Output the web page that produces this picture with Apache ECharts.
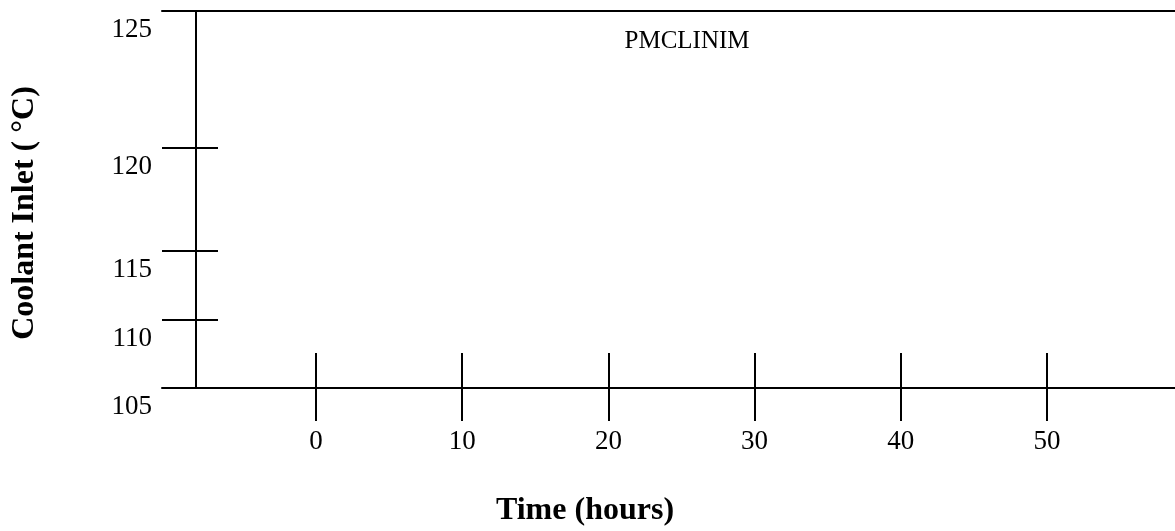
<!DOCTYPE html>
<html>
<head>
<meta charset="utf-8">
<script src="https://cdn.jsdelivr.net/npm/echarts@6/dist/echarts.min.js"></script>
<style>
html,body{margin:0;padding:0;background:#fff;}
#chart{width:1175px;height:531px;}
</style>
</head>
<body>
<div id="chart"></div>
<script>
// Y tick labels (the original scale is uneven; blank entries are unlabeled steps)
const yTickLabels = ['105', '', '110', '', '115', '', '', '120', '', '', '', '125'];
// X tick values (hours)
const xTickValues = [0, 10, 20, 30, 40, 50];
// No data series are drawn in the reference
const seriesValues = [];
const plotLabel = 'PMCLINIM';
const xTitle = 'Time (hours)';
const yTitle = 'Coolant Inlet ( °C)';

const FONT = '"Liberation Serif", "Times New Roman", serif';
const lineStyle = { color: '#000', width: 2 };
const hasLabel = (i, v) => v !== '';

const chart = echarts.init(document.getElementById('chart'), null, { renderer: 'canvas' });
chart.setOption({
  animation: false,
  backgroundColor: '#fff',
  grid: { left: 162, right: 0, top: 11, bottom: 143, containLabel: false },
  xAxis: [
    { type: 'value', position: 'bottom', min: -10.53, max: 58.75,
      axisLine: { show: true, onZero: false, lineStyle },
      axisTick: { show: true, inside: false, length: 33, lineStyle, customValues: xTickValues },
      axisLabel: { show: true, margin: 40, fontFamily: FONT, fontSize: 27, color: '#000', customValues: xTickValues },
      splitLine: { show: false } },
    { type: 'value', position: 'bottom', min: -10.53, max: 58.75,
      axisLine: { show: false, onZero: false },
      axisTick: { show: true, inside: true, length: 35, lineStyle, customValues: xTickValues },
      axisLabel: { show: false },
      splitLine: { show: false } },
    { type: 'value', position: 'top', min: -10.53, max: 58.75,
      axisLine: { show: true, onZero: false, lineStyle },
      axisTick: { show: false }, axisLabel: { show: false }, splitLine: { show: false } }
  ],
  yAxis: [
    { type: 'category', position: 'left', offset: -34, boundaryGap: false, data: yTickLabels,
      axisLine: { show: true, onZero: false, lineStyle },
      axisTick: { show: true, inside: false, length: 34, lineStyle, interval: hasLabel },
      axisLabel: { show: true, interval: hasLabel, margin: 44, fontFamily: FONT, fontSize: 27, color: '#000',
                   verticalAlign: 'top', lineHeight: 38 },
      splitLine: { show: false } },
    { type: 'category', position: 'left', offset: -34, boundaryGap: false, data: yTickLabels,
      axisLine: { show: false, onZero: false },
      axisTick: { show: true, inside: true, length: 22, lineStyle, interval: hasLabel },
      axisLabel: { show: false },
      splitLine: { show: false } }
  ],
  series: [
    { type: 'line', xAxisIndex: 0, yAxisIndex: 0, data: seriesValues, symbol: 'none' }
  ],
  graphic: [
    { type: 'text', x: 687, y: 41, style: { text: plotLabel, fontFamily: FONT, fontSize: 25, fill: '#000', align: 'center', verticalAlign: 'middle' } },
    { type: 'text', x: 585, y: 511, style: { text: xTitle, fontFamily: FONT, fontSize: 32, fontWeight: 'bold', fill: '#000', align: 'center', verticalAlign: 'middle' } },
    { type: 'text', x: 25, y: 213, rotation: Math.PI / 2, style: { text: yTitle, fontFamily: FONT, fontSize: 32, fontWeight: 'bold', fill: '#000', align: 'center', verticalAlign: 'middle' } }
  ]
});
</script>
</body>
</html>
